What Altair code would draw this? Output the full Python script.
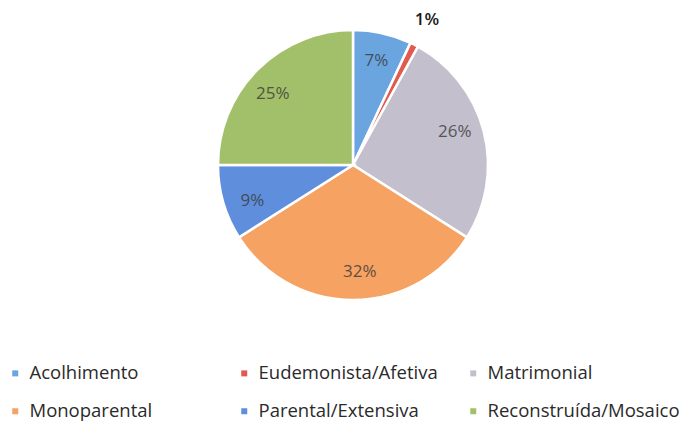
import altair as alt
import pandas as pd

categories = ["Acolhimento", "Eudemonista/Afetiva", "Matrimonial",
              "Monoparental", "Parental/Extensiva", "Reconstruída/Mosaico"]
values = [7, 1, 26, 32, 9, 25]
colors = ["#6aa5e0", "#e05a4e", "#c3bfcc", "#f6a262", "#5f8fdc", "#a2c06a"]

df = pd.DataFrame({
    "cat": categories,
    "val": values,
    "ord": list(range(len(categories))),
    "label": [f"{v}%" for v in values],
})

CX, CY = 345, 157

base = alt.Chart(df).encode(
    theta=alt.Theta("val:Q", stack=True),
    order=alt.Order("ord:Q"),
)

color = alt.Color(
    "cat:N",
    scale=alt.Scale(domain=categories, range=colors),
    sort=categories,
    legend=alt.Legend(
        title=None, orient="none", legendX=-2, legendY=356,
        columns=3, direction="horizontal", gridAlign="all",
        symbolType="square", symbolSize=36, symbolStrokeWidth=0,
        labelFont="Open Sans", labelFontSize=18.5, labelColor="#2a2a2a",
        columnPadding=13, rowPadding=19, symbolOffset=0, labelOffset=5,
        labelLimit=300,
    ),
)

pie = base.mark_arc(outerRadius=135, stroke="white", strokeWidth=2.5).encode(
    color=color, x=alt.value(CX), y=alt.value(CY)
)

inside = base.mark_text(radius=107, font="Open Sans", fontSize=17, color="#3a3a3a",
                        opacity=0.8).encode(
    text="label:N", x=alt.value(CX), y=alt.value(CY)
).transform_filter(alt.datum.val > 2)

outside = base.mark_text(radius=163, font="Open Sans", fontSize=17, color="#1a1a1a",
                         fontWeight=600).encode(
    text=alt.condition(alt.datum.val <= 2, "label:N", alt.value("")),
    x=alt.value(CX), y=alt.value(CY)
)

chart = (pie + inside + outside).properties(
    width=681, height=418, padding=0, background="white",
    autosize=alt.AutoSizeParams(type="none")
).configure_view(stroke=None)

chart.save("out.html", embed_options={"renderer": "svg", "actions": False})
